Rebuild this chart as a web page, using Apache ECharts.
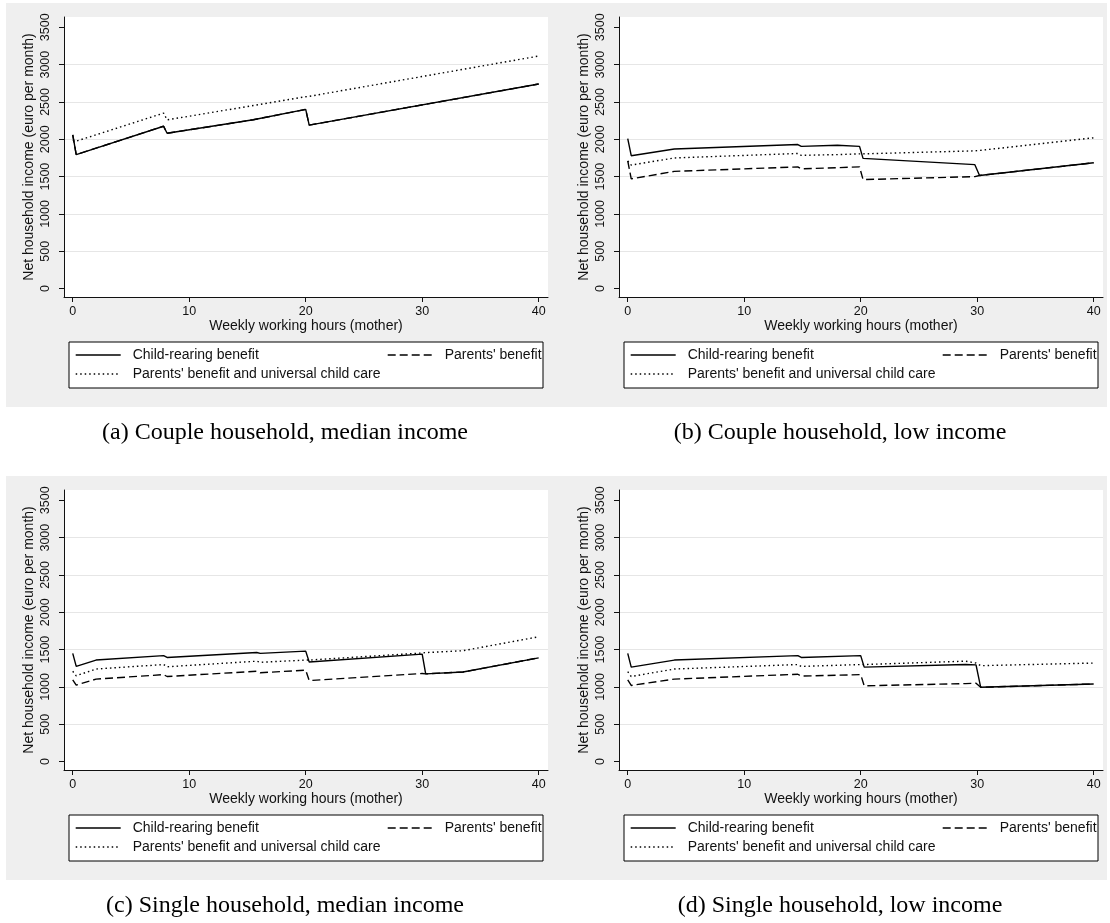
<!DOCTYPE html>
<html>
<head>
<meta charset="utf-8">
<script src="https://cdn.jsdelivr.net/npm/echarts@6.0.0/dist/echarts.min.js"></script>
<style>
html,body{margin:0;padding:0;background:#fff;}
#chart{width:1110px;height:923px;}
</style>
</head>
<body>
<div id="chart"></div>
<script>
// ---------- data ----------
const SERIES_NAMES = ["Child-rearing benefit", "Parents' benefit", "Parents' benefit and universal child care"];
const CAPTIONS = [
  "(a) Couple household, median income",
  "(b) Couple household, low income",
  "(c) Single household, median income",
  "(d) Single household, low income"
];
const X_TITLE = "Weekly working hours (mother)";
const Y_TITLE = "Net household income (euro per month)";
const X_TICKS = [0, 10, 20, 30, 40];
const Y_TICKS = [0, 500, 1000, 1500, 2000, 2500, 3000, 3500];
const GRID_TICKS = [500, 1000, 1500, 2000, 2500, 3000];

// (a) Couple household, median income
const HOURS_A = [0, 0.3, 7.8, 8.1, 15.5, 20, 20.3, 40];
const CRB_A   = [2060, 1795, 2175, 2080, 2262, 2400, 2190, 2740];
const PB_A    = [2060, 1795, 2175, 2080, 2262, 2400, 2190, 2740];
const PBC_A   = [1985, 1975, 2350, 2260, 2452, 2570, 2575, 3115];

// (b) Couple household, low income
const HOURS_B = [0, 0.3, 4, 14.6, 14.9, 18, 19.9, 20.2, 29.8, 30.2, 40];
const CRB_B   = [2010, 1780, 1870, 1930, 1905, 1920, 1905, 1745, 1660, 1515, 1685];
const PB_B    = [1710, 1470, 1570, 1630, 1605, 1620, 1630, 1460, 1500, 1515, 1685];
const PBC_B   = [1710, 1655, 1750, 1810, 1785, 1795, 1805, 1805, 1845, 1850, 2020];

// (c) Single household, median income
const HOURS_C = [0, 0.3, 2, 7.8, 8.1, 15.8, 16.1, 20, 20.3, 30, 30.3, 33.5, 40];
const CRB_C   = [1450, 1275, 1360, 1420, 1395, 1462, 1450, 1480, 1335, 1440, 1175, 1200, 1390];
const PB_C    = [1095, 1025, 1105, 1165, 1140, 1210, 1190, 1225, 1085, 1180, 1175, 1200, 1390];
const PBC_C   = [1210, 1150, 1240, 1300, 1270, 1345, 1330, 1360, 1360, 1455, 1460, 1485, 1672];

// (d) Single household, low income
const HOURS_D = [0, 0.3, 4, 14.6, 14.9, 20, 20.3, 29, 29.9, 30.3, 40];
const CRB_D   = [1450, 1265, 1360, 1420, 1395, 1420, 1265, 1300, 1295, 995, 1040];
const PB_D    = [1095, 1020, 1105, 1170, 1145, 1165, 1015, 1045, 1050, 995, 1040];
const PBC_D   = [1205, 1140, 1240, 1300, 1275, 1300, 1300, 1345, 1320, 1285, 1320];

const PANELS = [
  {hours: HOURS_A, vals: [CRB_A, PB_A, PBC_A]},
  {hours: HOURS_B, vals: [CRB_B, PB_B, PBC_B]},
  {hours: HOURS_C, vals: [CRB_C, PB_C, PBC_C]},
  {hours: HOURS_D, vals: [CRB_D, PB_D, PBC_D]}
];

// ---------- styling / layout ----------
const SANS = "'Liberation Sans', Arial, Helvetica, sans-serif";
const SERIF = "'Liberation Serif', 'Times New Roman', serif";
const INK = '#111';
const LINE_TYPES = ['solid', [8, 4], [1.5, 3]];
const COL_DX = 555, ROW_DY = 473;

const chart = echarts.init(document.getElementById('chart'), null, {renderer: 'canvas'});

const grids = [], xAxes = [], yAxes = [], series = [], legends = [], graphics = [];

// gray panel backgrounds (one per row)
for (let r = 0; r < 2; r++) {
  graphics.push({type: 'rect', z: -10, shape: {x: 6, y: 3 + r * ROW_DY, width: 1101, height: 404},
    style: {fill: '#efefef', stroke: null}});
}

PANELS.forEach((p, k) => {
  const ox = (k % 2) * COL_DX, oy = Math.floor(k / 2) * ROW_DY;
  grids.push({left: 64 + ox, top: 17 + oy, width: 484, height: 280, show: true,
    backgroundColor: '#fff', borderWidth: 0, containLabel: false});
  xAxes.push({
    type: 'value', gridIndex: k, min: -0.75, max: 40.8,
    axisLine: {show: true, onZero: false, lineStyle: {color: INK, width: 1}},
    axisTick: {show: true, length: 5, customValues: X_TICKS, lineStyle: {color: INK, width: 1}},
    axisLabel: {show: true, customValues: X_TICKS, margin: 8, fontSize: 12.5, color: INK, fontFamily: SANS,
      formatter: v => String(v)},
    splitLine: {show: false},
    name: X_TITLE, nameLocation: 'middle', nameGap: 20,
    nameTextStyle: {fontSize: 14, color: INK, fontFamily: SANS}
  });
  yAxes.push({
    type: 'value', gridIndex: k, min: -112.5, max: 3638, position: 'left',
    axisLine: {show: true, onZero: false, lineStyle: {color: INK, width: 1}},
    axisTick: {show: true, length: 5, customValues: Y_TICKS, lineStyle: {color: INK, width: 1}},
    axisLabel: {show: true, customValues: Y_TICKS, rotate: 90, margin: 12, fontSize: 12.5, color: INK, fontFamily: SANS,
      formatter: v => String(v)},
    splitLine: {show: false},
    name: Y_TITLE, nameLocation: 'middle', nameGap: 28, nameRotate: 90,
    nameTextStyle: {fontSize: 14, color: INK, fontFamily: SANS}
  });
  yAxes.push({
    type: 'value', gridIndex: k, min: -112.5, max: 3638, position: 'right',
    axisLine: {show: false}, axisLabel: {show: false},
    axisTick: {show: false, customValues: GRID_TICKS},
    splitLine: {show: true, lineStyle: {color: '#e6e6e6', width: 1.2}}
  });
  p.vals.forEach((vals, s) => {
    series.push({
      name: SERIES_NAMES[s], type: 'line', xAxisIndex: k, yAxisIndex: 2 * k,
      data: p.hours.map((h, i) => [h, vals[i]]),
      symbol: 'none', showSymbol: false, silent: true, z: 3 + s,
      lineStyle: {color: '#000', width: 1.4, type: LINE_TYPES[s]},
      itemStyle: {color: '#000'}
    });
  });
  // legend box
  graphics.push({type: 'rect', z: 1, shape: {x: 69 + ox, y: 342 + oy, width: 474, height: 46},
    style: {fill: '#fff', stroke: '#000', lineWidth: 1}});
  const legendPos = [[75, 348], [387, 348], [75, 367]];
  SERIES_NAMES.forEach((nm, s) => {
    legends.push({
      data: [nm], left: legendPos[s][0] + ox, top: legendPos[s][1] + oy,
      orient: 'horizontal', padding: 0, itemWidth: 45, itemHeight: 14, selectedMode: false,
      itemStyle: {opacity: 0, borderWidth: 0},
      lineStyle: {width: 1.4, opacity: 1},
      textStyle: {fontSize: 14, color: INK, fontFamily: SANS, padding: [0, 0, 0, 7]}
    });
  });
  graphics.push({type: 'text', z: 5, x: 285 + ox, y: 433 + oy,
    style: {text: CAPTIONS[k], fill: '#000', font: '24px ' + SERIF, textAlign: 'center', textVerticalAlign: 'middle'}});
});

chart.setOption({
  backgroundColor: '#fff',
  animation: false,
  grid: grids, xAxis: xAxes, yAxis: yAxes, series: series, legend: legends,
  graphic: graphics
});
</script>
</body>
</html>
